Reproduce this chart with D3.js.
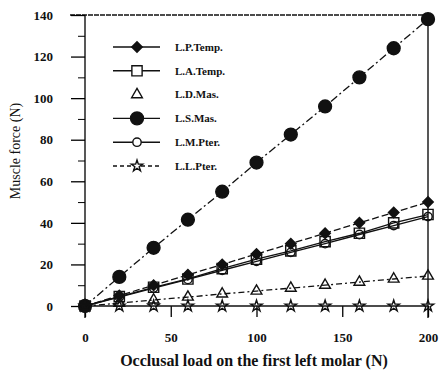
<!DOCTYPE html>
<html>
<head>
<meta charset="utf-8">
<script src="https://cdn.jsdelivr.net/npm/d3@7"></script>
<style>
  body { margin: 0; background: #fff; }
  text { font-family: "Liberation Serif", "DejaVu Serif", serif; fill: #111; }
</style>
</head>
<body>
<svg id="chart"></svg>
<script>
const loads = [0, 20, 40, 60, 80, 100, 120, 140, 160, 180, 200];
const pTemp = [0, 5, 10, 15, 20, 25, 30, 35, 40, 45, 50];
const aTemp = [0, 4.5, 9, 13, 18, 22.5, 26.5, 31, 35, 40, 44];
const dMas = [0, 1.4, 2.9, 4.3, 5.8, 7.2, 8.6, 10, 11.5, 13, 14.4];
const sMas = [0, 14, 28, 41.5, 55, 69, 82.5, 96, 110, 124, 138];
const mPter = [0, 4.3, 8.6, 12.8, 17.2, 21.5, 25.8, 30, 34.4, 38.7, 43];
const lPter = [0, 0, 0, 0, 0, 0, 0, 0, 0, 0, 0];
const xTicks = [0, 50, 100, 150, 200];
const yTicks = [0, 20, 40, 60, 80, 100, 120, 140];
const yMinor = [10, 30, 50, 70, 90, 110, 130];

// diamond drawn as a square turned 45 degrees
const series = [
  {name: "L.P.Temp.", values: pTemp, sym: d3.symbolSquare, rot: 45, size: 55, fill: "#111", dash: "7,3", legendDash: null},
  {name: "L.A.Temp.", values: aTemp, sym: d3.symbolSquare, rot: 0, size: 105, fill: "none", dash: null, legendDash: null},
  {name: "L.D.Mas.", values: dMas, sym: d3.symbolTriangle, rot: 0, size: 50, fill: "none", dash: "6,3,2,3", legendDash: "none"},
  {name: "L.S.Mas.", values: sMas, sym: d3.symbolCircle, rot: 0, size: 130, fill: "#111", dash: "8,3,2,3", legendDash: null},
  {name: "L.M.Pter.", values: mPter, sym: d3.symbolCircle, rot: 0, size: 55, fill: "none", dash: null, legendDash: null},
  {name: "L.L.Pter.", values: lPter, sym: d3.symbolStar, rot: 0, size: 40, fill: "none", dash: null, legendDash: "4,3"}
];

const width = 439, height = 375;
const svg = d3.select("#chart").attr("width", width).attr("height", height);

const x = d3.scaleLinear().domain([0, 200]).range([85, 428]);
const y = d3.scaleLinear().domain([0, 140]).range([306, 15]);

// frame: left axis, top dashed line, right border
svg.append("line").attr("x1", 85).attr("x2", 85).attr("y1", y(140)).attr("y2", 318)
  .attr("stroke", "#111").attr("stroke-width", 1.4);
svg.append("line").attr("x1", 70).attr("x2", 430).attr("y1", y(140)).attr("y2", y(140))
  .attr("stroke", "#111").attr("stroke-width", 1.4).attr("stroke-dasharray", "5,1");
svg.append("line").attr("x1", 428).attr("x2", 428).attr("y1", y(140)).attr("y2", 318)
  .attr("stroke", "#111").attr("stroke-width", 1.4);

// y axis
const yAxis = svg.append("g").attr("transform", "translate(85,0)")
  .call(d3.axisLeft(y).tickValues(yTicks).tickSize(14).tickPadding(18).tickFormat(d3.format("d")));
yAxis.select(".domain").remove();
yAxis.selectAll("text").attr("font-size", 13).attr("font-weight", "bold")
  .style("font-family", "Liberation Serif, serif");
yAxis.selectAll("line").attr("stroke-width", 1.3);
const yAxisMinor = svg.append("g").attr("transform", "translate(85,0)")
  .call(d3.axisLeft(y).tickValues(yMinor).tickSize(7).tickFormat(""));
yAxisMinor.select(".domain").remove();

// x axis
const xAxis = svg.append("g").attr("transform", `translate(0,${y(0)})`)
  .call(d3.axisBottom(x).tickValues(xTicks).tickSize(11).tickPadding(16));
xAxis.select(".domain").remove();
xAxis.selectAll("text").attr("font-size", 13).attr("font-weight", "bold")
  .style("font-family", "Liberation Serif, serif");
xAxis.selectAll("line").attr("stroke-width", 1.3);

// series lines and markers
const line = d3.line().x((d, i) => x(loads[i])).y(d => y(d));
series.forEach(s => {
  svg.append("path").datum(s.values)
    .attr("d", line)
    .attr("fill", "none")
    .attr("stroke", "#111")
    .attr("stroke-width", 1.3)
    .attr("stroke-dasharray", s.dash);
  svg.append("g").selectAll("path")
    .data(s.values)
    .join("path")
    .attr("transform", (d, i) => `translate(${x(loads[i])},${y(d)}) rotate(${s.rot})`)
    .attr("d", d3.symbol().type(s.sym).size(s.size))
    .attr("fill", s.fill)
    .attr("stroke", "#111")
    .attr("stroke-width", 1.4);
});

// legend
const legend = svg.append("g");
const rowY = d3.scalePoint().domain(series.map(s => s.name)).range([47, 166]);
series.forEach(s => {
  const ly = rowY(s.name);
  if (s.legendDash !== "none") {
    legend.append("line").attr("x1", 113).attr("x2", 160).attr("y1", ly).attr("y2", ly)
      .attr("stroke", "#111").attr("stroke-width", 1.4)
      .attr("stroke-dasharray", s.legendDash);
  }
  legend.append("path")
    .attr("transform", `translate(137,${ly}) rotate(${s.rot})`)
    .attr("d", d3.symbol().type(s.sym).size(s.size))
    .attr("fill", s.fill === "none" ? "#fff" : s.fill)
    .attr("stroke", "#111").attr("stroke-width", 1.4);
  legend.append("text").attr("x", 175).attr("y", ly).attr("dy", "0.35em")
    .attr("font-size", 11).attr("font-weight", "bold").text(s.name);
});

// axis titles
svg.append("text").attr("x", 254).attr("y", 366).attr("text-anchor", "middle")
  .attr("font-size", 16).attr("font-weight", "bold")
  .text("Occlusal load on the first left molar (N)");
svg.append("text").attr("transform", "translate(15,151) rotate(-90)")
  .attr("text-anchor", "middle").attr("dy", "0.35em")
  .attr("font-size", 14).text("Muscle force (N)");
</script>
</body>
</html>
